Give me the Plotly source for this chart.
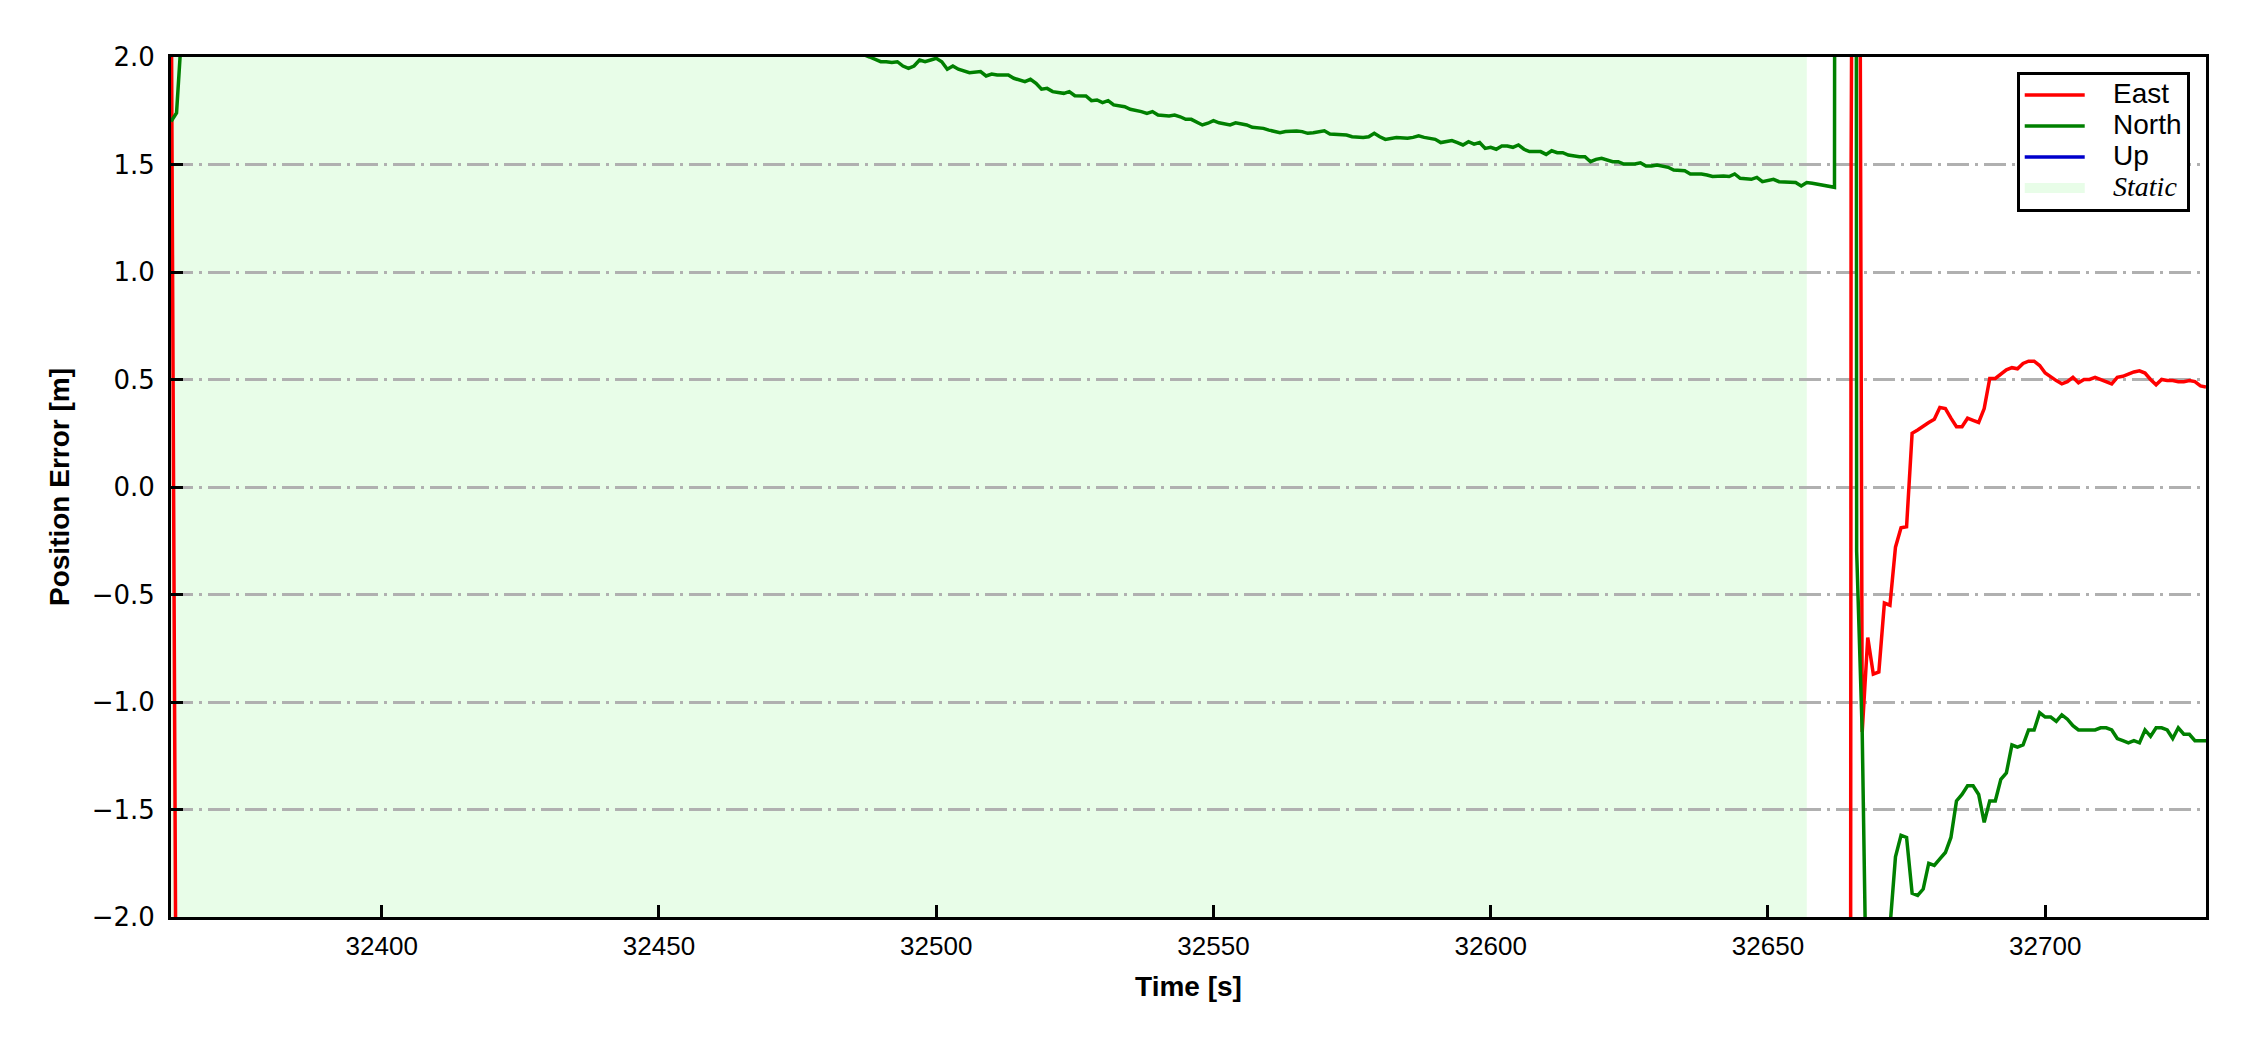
import plotly.graph_objects as go

# ---------------- data ----------------
x_range = [32362, 32729]
y_range = [-2.0, 2.0]
static_start = 32362
static_end = 32657

x_ticks = [32400, 32450, 32500, 32550, 32600, 32650, 32700]
y_ticks = [-2.0, -1.5, -1.0, -0.5, 0.0, 0.5, 1.0, 1.5, 2.0]
y_ticklabels = ["\u22122.0", "\u22121.5", "\u22121.0", "\u22120.5", "0.0", "0.5", "1.0", "1.5", "2.0"]

# East error
east_t = [32362, 32363, 32400, 32450, 32500, 32550, 32600, 32650, 32664, 32665, 32666,
          32667, 32668, 32669, 32670, 32671, 32672, 32673, 32674, 32675, 32676, 32677,
          32679, 32680, 32681, 32682, 32683, 32684, 32685, 32686, 32687, 32688, 32689,
          32690, 32691, 32692, 32693, 32694, 32695, 32696, 32697, 32698, 32699, 32700,
          32701, 32702, 32703, 32704, 32705, 32706, 32707, 32708, 32709, 32710, 32711,
          32712, 32713, 32714, 32715, 32716, 32717, 32718, 32719, 32720, 32721, 32722,
          32723, 32724, 32725, 32726, 32727, 32728, 32729]
east_v = [2.6, -3.0, -3.3, -3.6, -3.8, -3.9, -3.7, -3.4, -40.0, 1.5, 8.0,
          -1.14, -0.70, -0.87, -0.86, -0.54, -0.55, -0.28, -0.19, -0.185, 0.25, 0.265,
          0.30, 0.315, 0.37, 0.365, 0.32, 0.28, 0.28, 0.32, 0.31, 0.30, 0.365,
          0.505, 0.505, 0.525, 0.545, 0.555, 0.55, 0.575, 0.585, 0.585, 0.565, 0.53,
          0.51, 0.495, 0.48, 0.49, 0.51, 0.485, 0.50, 0.50, 0.51, 0.50, 0.49,
          0.48, 0.51, 0.515, 0.525, 0.535, 0.54, 0.53, 0.50, 0.475, 0.50, 0.495,
          0.495, 0.49, 0.49, 0.495, 0.49, 0.47, 0.465]

# North error
north_t = [32362, 32363, 32364, 32380, 32420, 32460, 32480, 32486,
           32488, 32490, 32491, 32492, 32493, 32494, 32495, 32496, 32497, 32498, 32499,
           32500, 32501, 32502, 32503, 32504, 32506, 32508, 32509, 32510, 32511, 32513,
           32514, 32516, 32517, 32518, 32519, 32520, 32521, 32523, 32524, 32525, 32527,
           32528, 32529, 32530, 32531, 32532, 32534, 32535, 32537, 32538, 32539, 32540,
           32542, 32543, 32544, 32545, 32546, 32548, 32549, 32550, 32551, 32553, 32554,
           32556, 32557, 32559, 32560, 32562, 32563, 32565, 32566, 32567, 32568, 32570,
           32571, 32573, 32574, 32575, 32577, 32578, 32579, 32580, 32581, 32583, 32585,
           32586, 32587, 32588, 32590, 32591, 32593, 32594, 32595, 32596, 32597, 32598,
           32599, 32600, 32601, 32602, 32603, 32604, 32605, 32606, 32607, 32609, 32610,
           32611, 32612, 32613, 32614, 32616, 32617, 32618, 32619, 32620, 32621, 32622,
           32623, 32624, 32626, 32627, 32628, 32629, 32630, 32632, 32633, 32635, 32636,
           32638, 32639, 32640, 32642, 32643, 32644, 32645, 32647, 32648, 32649, 32651,
           32652, 32654, 32655, 32656, 32657, 32658, 32660, 32662,
           32663, 32664, 32665, 32666, 32667, 32668, 32669, 32670, 32671, 32672,
           32673, 32674, 32675, 32676, 32677, 32678, 32679, 32680, 32681, 32682, 32683,
           32684, 32685, 32686, 32687, 32688, 32689, 32690, 32691, 32692, 32693, 32694,
           32695, 32696, 32697, 32698, 32699, 32700, 32701, 32702, 32703, 32704, 32705,
           32706, 32707, 32708, 32709, 32710, 32711, 32712, 32713, 32714, 32715, 32716,
           32717, 32718, 32719, 32720, 32721, 32722, 32723, 32724, 32725, 32726, 32727,
           32728, 32729]
north_v = [1.70, 1.74, 2.15, 2.40, 2.35, 2.20, 2.06, 2.02,
           2.00, 1.978, 1.978, 1.974, 1.978, 1.958, 1.947, 1.958, 1.986, 1.978, 1.986,
           1.994, 1.978, 1.943, 1.958, 1.943, 1.927, 1.932, 1.912, 1.921, 1.916, 1.916,
           1.901, 1.885, 1.896, 1.878, 1.850, 1.854, 1.839, 1.831, 1.839, 1.820, 1.819,
           1.797, 1.800, 1.788, 1.797, 1.777, 1.769, 1.757, 1.746, 1.738, 1.746, 1.730,
           1.726, 1.730, 1.722, 1.710, 1.710, 1.684, 1.692, 1.704, 1.694, 1.684, 1.694,
           1.684, 1.673, 1.668, 1.660, 1.648, 1.653, 1.656, 1.653, 1.645, 1.648, 1.657,
           1.642, 1.637, 1.637, 1.629, 1.626, 1.629, 1.645, 1.629, 1.617, 1.626, 1.622,
           1.626, 1.633, 1.626, 1.617, 1.602, 1.611, 1.602, 1.591, 1.606, 1.595, 1.602,
           1.575, 1.580, 1.571, 1.586, 1.586, 1.580, 1.591, 1.571, 1.560, 1.560, 1.547,
           1.564, 1.555, 1.555, 1.544, 1.536, 1.536, 1.513, 1.524, 1.529, 1.521, 1.513,
           1.513, 1.502, 1.502, 1.508, 1.493, 1.493, 1.498, 1.487, 1.474, 1.471, 1.456,
           1.456, 1.451, 1.444, 1.447, 1.444, 1.456, 1.436, 1.431, 1.440, 1.420, 1.431,
           1.420, 1.420, 1.416, 1.400, 1.416, 1.413, 1.405, 1.394,
           28.0, 33.0, 40.0, -0.30, -1.14, -2.8, -3.2, -3.4, -3.0, -2.05,
           -1.72, -1.62, -1.63, -1.89, -1.90, -1.87, -1.75, -1.76, -1.73, -1.70, -1.63,
           -1.46, -1.43, -1.39, -1.39, -1.43, -1.56, -1.46, -1.46, -1.36, -1.33, -1.20,
           -1.21, -1.20, -1.13, -1.13, -1.05, -1.07, -1.07, -1.09, -1.06, -1.08, -1.11,
           -1.13, -1.13, -1.13, -1.13, -1.12, -1.12, -1.13, -1.17, -1.18, -1.19, -1.18,
           -1.19, -1.13, -1.16, -1.12, -1.12, -1.13, -1.17, -1.12, -1.15, -1.15, -1.18,
           -1.18, -1.18]

# Up error (outside the displayed range)
up_t = [32362, 32450, 32550, 32657, 32729]
up_v = [-2.6, -2.9, -3.1, -3.3, -2.8]

# ---------------- figure ----------------
SANS = "Liberation Sans, Arial, sans-serif"
STATIC_COLOR = "#e8fde8"
LEG_TXT = '<span style="font-size:28px">{}</span>'

fig = go.Figure()

fig.add_trace(go.Scatter(x=east_t, y=east_v, mode="lines",
                         name=LEG_TXT.format("\u00a0\u00a0\u00a0East"),
                         line=dict(color="#ff0000", width=3.5), legendrank=1))
fig.add_trace(go.Scatter(x=north_t, y=north_v, mode="lines",
                         name=LEG_TXT.format("\u00a0\u00a0\u00a0North"),
                         line=dict(color="#008000", width=3.5), legendrank=2))
fig.add_trace(go.Scatter(x=up_t, y=up_v, mode="lines",
                         name=LEG_TXT.format("\u00a0\u00a0\u00a0Up"),
                         line=dict(color="#0000cc", width=3.5), legendrank=3))

# static period shading (drawn below the grid) + legend entry
fig.add_shape(type="rect", xref="x", yref="y",
              x0=static_start, x1=static_end, y0=y_range[0], y1=y_range[1],
              fillcolor=STATIC_COLOR, line=dict(width=0, color=STATIC_COLOR),
              layer="below")
fig.add_trace(go.Scatter(x=[None], y=[None], mode="lines",
                         line=dict(color=STATIC_COLOR, width=20),
                         name='<span style="font-size:28px">\u00a0\u00a0\u00a0</span>'
                              '<span style="font-size:28px;font-family:Liberation Serif, Times New Roman, serif"><i>Static</i></span>',
                         legendrank=4, hoverinfo="skip"))

fig.update_layout(
    width=2250, height=1050,
    margin=dict(l=171, r=44, t=57, b=133),
    paper_bgcolor="white", plot_bgcolor="white",
    font=dict(family=SANS, color="black"),
    showlegend=True,
    legend=dict(
        x=0.992, y=0.983, xanchor="right", yanchor="top",
        bgcolor="white", bordercolor="black", borderwidth=3,
        font=dict(size=21.5, family=SANS),
        itemwidth=60, tracegroupgap=0,
    ),
    xaxis=dict(
        range=x_range, tickmode="array", tickvals=x_ticks,
        ticktext=[str(v) for v in x_ticks],
        showline=True, linecolor="black", linewidth=3, mirror=True,
        ticks="inside", ticklen=12, tickwidth=3, tickcolor="black",
        showgrid=False, zeroline=False,
        tickfont=dict(size=26, family=SANS),
        ticklabelstandoff=4,
        title=dict(text="<b>Time [s]</b>", standoff=17,
                   font=dict(size=28, family=SANS)),
    ),
    yaxis=dict(
        range=y_range, tickmode="array", tickvals=y_ticks, ticktext=y_ticklabels,
        showline=True, linecolor="black", linewidth=3, mirror=True,
        ticks="inside", ticklen=12, tickwidth=3, tickcolor="black",
        showgrid=True, gridcolor="#b0b0b0", gridwidth=3,
        griddash="22px,6px,3px,6px",
        zeroline=False,
        tickfont=dict(size=26, family="DejaVu Sans, sans-serif"),
        ticklabelstandoff=8,
        title=dict(text="<b>Position Error [m]</b>", standoff=14,
                   font=dict(size=28, family=SANS)),
    ),
)

fig.write_html("out.html", config={"displayModeBar": False},
               post_script="document.body.style.margin='0px';")
